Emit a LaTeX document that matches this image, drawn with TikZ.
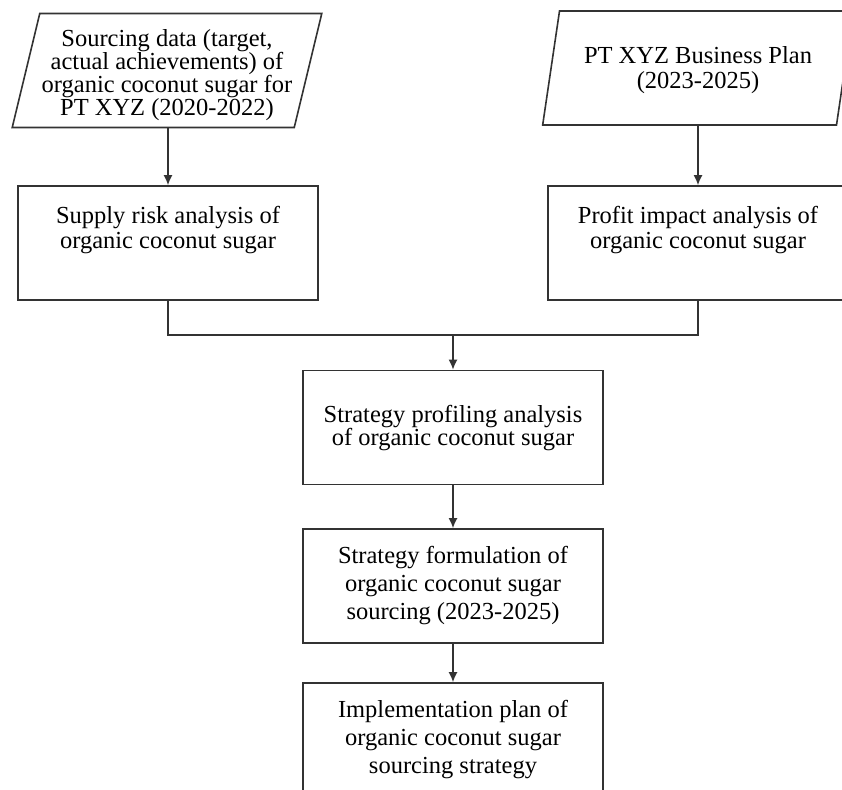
\documentclass[tikz,border=0pt]{standalone}
\usepackage{fontspec}
\setmainfont{Liberation Serif}
\usetikzlibrary{shapes.geometric,arrows.meta}
\newcommand{\flowfont}[1]{\fontsize{24.5}{#1}\selectfont}
\tikzset{
  flowbox/.style={draw=black!80, line width=1.6pt, minimum width=300pt, minimum height=114pt, inner sep=0pt, align=center},
  databox/.style={flowbox, trapezium, trapezium left angle=75, trapezium right angle=105, trapezium stretches=true, minimum width=311pt},
  flowline/.style={draw=black!80, line width=1.6pt},
  flowarrow/.style={flowline, -{Latex[length=10pt,width=9pt]}}
}

\begin{document}
\begin{tikzpicture}[x=1pt,y=-1pt]
    \useasboundingbox (0,0) rectangle (842,789);

    \node[databox, font=\flowfont{23}] (srcdata) at (167,70.5) {\mbox{}\\[4pt]Sourcing data (target,\\actual achievements) of\\organic coconut sugar for\\PT XYZ (2020-2022)};
    \node[databox, font=\flowfont{25}] (bizplan) at (698,68) {\mbox{}\\[-3.5pt]PT XYZ Business Plan\\(2023-2025)};

    \node[flowbox, font=\flowfont{25}] (riskbox) at (168,243) {Supply risk analysis of\\organic coconut sugar\\[6pt]\mbox{}};
    \node[flowbox, font=\flowfont{25}] (impactbox) at (698,243) {Profit impact analysis of\\organic coconut sugar\\[6pt]\mbox{}};

    \coordinate (join) at (453,335);

    \node[flowbox, font=\flowfont{23}] (profilebox) at (453,427.5) {Strategy profiling analysis\\of organic coconut sugar\\[-18pt]\mbox{}};
    \node[flowbox, font=\flowfont{28}] (formbox) at (453,586) {Strategy formulation of\\organic coconut sugar\\sourcing (2023-2025)};
    \node[flowbox, font=\flowfont{28}] (implbox) at (453,740) {Implementation plan of\\organic coconut sugar\\sourcing strategy};

    % inputs
    \draw[flowarrow] (srcdata.south -| riskbox.north) -- (riskbox.north);
    \draw[flowarrow] (bizplan.south) -- (impactbox.north);

    % merge
    \draw[flowline] (riskbox.south) |- (join) -| (impactbox.south);
    \draw[flowarrow] (join) -- (profilebox.north);

    \draw[flowarrow] (profilebox.south) -- (formbox.north);
    \draw[flowarrow] (formbox.south) -- (implbox.north);
\end{tikzpicture}
\end{document}
